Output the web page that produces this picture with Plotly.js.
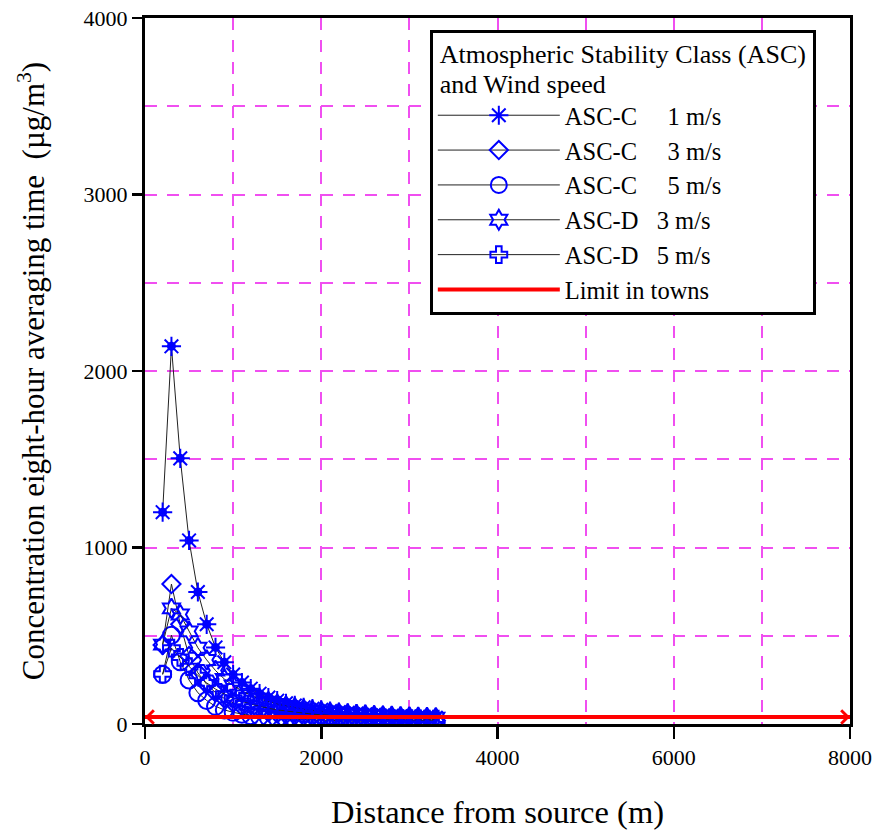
<!DOCTYPE html>
<html>
<head>
<meta charset="utf-8">
<script src="https://cdn.plot.ly/plotly-3.0.1.min.js"></script>
<style>html,body{margin:0;padding:0;background:#fff;}#chart{width:874px;height:830px;}</style>
</head>
<body>
<div id="chart"></div>
<script>
// Distance from source (m)
var distance = [200,300,400,500,600,700,800,900,1000,1100,1200,1300,1400,1500,1600,1700,1800,1900,2000,2100,2200,2300,2400,2500,2600,2700,2800,2900,3000,3100,3200,3300];
// Concentration (µg/m3)
var ascC1 = [1200,2140,1505,1040,748,565,434,350,280,235,200,172,150,132,117,105,95,87,80,73,68,63,59,55,52,49,46,44,42,40,38,36];
var ascC3 = [448,793,565,385,290,225,178,145,120,101,87,76,67,60,54,49,45,41,38,35,33,31,29,27,26,24,23,22,21,20,19,18];
var ascC5 = [280,503,353,249,177,133,100,80,66,55,47,41,36,32,29,26,24,22,20,19,18,17,16,15,14.5,14,13.5,13,12.5,12,11.5,11];
var ascD3 = [450,655,620,525,432,363,303,255,218,188,163,143,127,113,102,92,84,77,71,66,61,57,54,51,48,46,44,42,40,39,37,36];
var ascD5 = [283,430,378,325,275,233,198,170,147,128,113,100,89,80,73,66,61,56,52,48,45,42,40,38,36,34,32,31,30,29,28,27];
var limitX = [0, 8000];
var limitY = [40, 40];
var xTicks = [0, 2000, 4000, 6000, 8000];
var yTicks = [0, 1000, 2000, 3000, 4000];

var pad = '\u00a0'.repeat(14);
var seriesNames = ["ASC-C\u00a0\u00a0\u00a0\u00a0 1 m/s" + pad, "ASC-C\u00a0\u00a0\u00a0\u00a0 3 m/s", "ASC-C\u00a0\u00a0\u00a0\u00a0 5 m/s", "ASC-D\u00a0\u00a0 3 m/s", "ASC-D\u00a0\u00a0 5 m/s", "Limit in towns"];
var legendTitle = ['Atmospheric Stability Class (ASC)', 'and Wind speed'];

var F = 'Liberation Serif';
var blue = '#0000ff';
function s(y, name, sym, size) {
  return {x: distance, y: y, name: name, type: 'scatter', mode: 'lines+markers',
    line: {color: '#222', width: 1},
    marker: {symbol: sym, size: size, color: blue, line: {color: blue, width: 2}}};
}
var traces = [
  s(ascC1, seriesNames[0], 'asterisk-open', 16),
  {x: distance, y: ascC1, type: 'scatter', mode: 'markers', showlegend: false, hoverinfo: 'skip',
    marker: {symbol: 'circle-open', size: 7, color: blue, line: {color: blue, width: 2}}},
  s(ascC3, seriesNames[1], 'diamond-open', 14),
  s(ascC5, seriesNames[2], 'circle-open', 17),
  s(ascD3, seriesNames[3], 'hexagram-open', 15),
  s(ascD5, seriesNames[4], 'cross-open', 14),
  {x: limitX, y: limitY, name: seriesNames[5], type: 'scatter', mode: 'lines', line: {color: '#ff0000', width: 4}}
];

var gridStyle = {showgrid: true, gridcolor: '#f04ff0', gridwidth: 2, griddash: '12px,10px'};
var titleHtml = legendTitle.map(function (t) { return '<span style="font-size:26px">' + t + '</span>'; }).join('<br>');
var layout = {
  width: 874, height: 830,
  margin: {l: 145, r: 24, t: 18, b: 106},
  paper_bgcolor: '#fff', plot_bgcolor: '#fff',
  font: {family: F, size: 22, color: '#000'},
  showlegend: true,
  xaxis: Object.assign({
    range: [0, 8000], tickvals: xTicks, ticks: 'outside', ticklen: 12, tickwidth: 2.5, tickcolor: '#000',
    showline: true, linecolor: '#000', linewidth: 3, mirror: true, zeroline: false,
    tickfont: {family: F, size: 22},
    minor: Object.assign({dtick: 1000, tick0: 0, ticks: ''}, gridStyle),
    title: {text: 'Distance from source (m)', font: {family: F, size: 32.5}, standoff: 32}
  }, gridStyle),
  yaxis: Object.assign({
    range: [0, 4000], tickvals: yTicks, ticks: 'outside', ticklen: 10, tickwidth: 2.5, tickcolor: '#000',
    showline: true, linecolor: '#000', linewidth: 3, mirror: true, zeroline: false,
    tickfont: {family: F, size: 22},
    minor: Object.assign({dtick: 500, tick0: 0, ticks: ''}, gridStyle),
    title: {text: 'Concentration eight-hour averaging time\u00a0\u00a0(\u00b5g/m<sup>3</sup>)\u00a0\u00a0\u00a0\u00a0', font: {family: F, size: 31}, standoff: 30}
  }, gridStyle),
  legend: {
    x: 0.404, y: 0.983, xanchor: 'left', yanchor: 'top',
    bgcolor: '#fff', bordercolor: '#000', borderwidth: 3,
    font: {family: F, size: 24.5}, itemwidth: 122, tracegroupgap: 0, itemclick: false,
    title: {text: titleHtml, side: 'top center', font: {family: F, size: 23}}
  },
  annotations: [
    {x: limitX[0], y: limitY[0], xref: 'x', yref: 'y', ax: 30, ay: 0, text: '', showarrow: true, arrowhead: 4, arrowsize: 0.65, arrowwidth: 4, arrowcolor: '#ff0000', standoff: 0},
    {x: limitX[1], y: limitY[1], xref: 'x', yref: 'y', ax: -30, ay: 0, text: '', showarrow: true, arrowhead: 4, arrowsize: 0.65, arrowwidth: 4, arrowcolor: '#ff0000', standoff: 0}
  ]
};
Plotly.newPlot('chart', traces, layout, {staticPlot: true, displayModeBar: false});
</script>
</body>
</html>
